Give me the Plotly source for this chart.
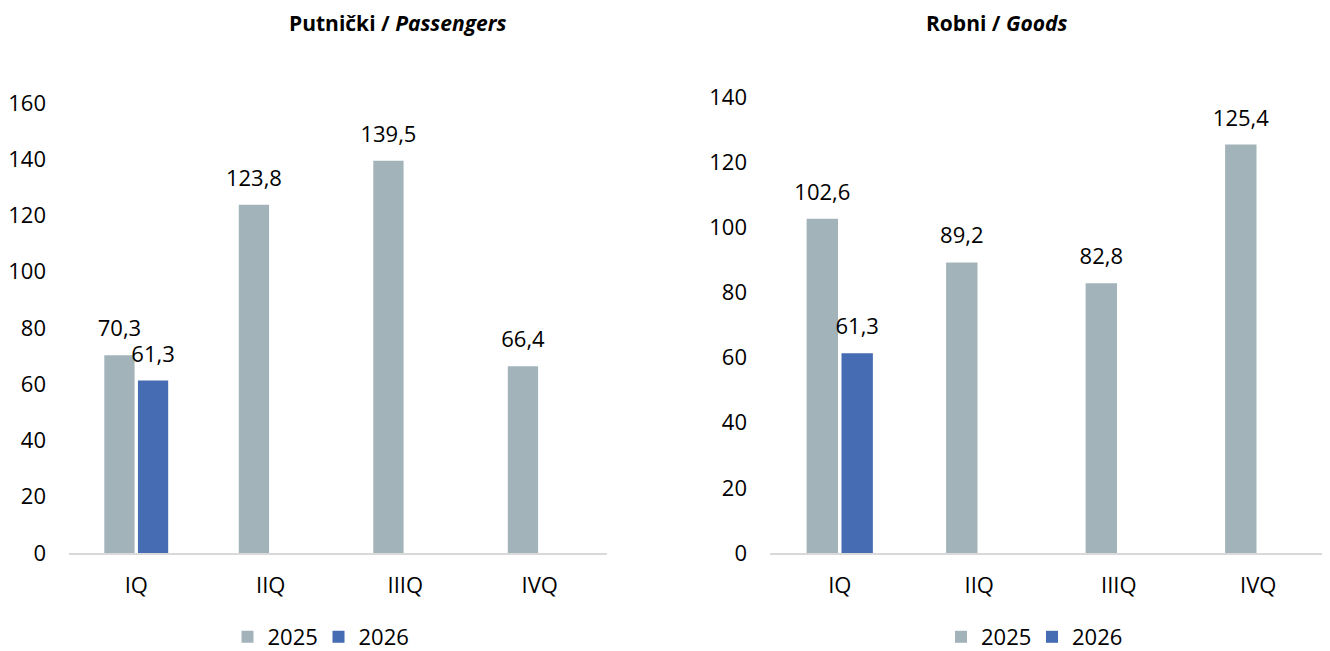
import plotly.graph_objects as go

quarters = ["IQ", "IIQ", "IIIQ", "IVQ"]
series_names = ["2025", "2026"]
passengers_2025 = [70.3, 123.8, 139.5, 66.4]
passengers_2026 = [61.3, None, None, None]
goods_2025 = [102.6, 89.2, 82.8, 125.4]
goods_2026 = [61.3, None, None, None]

titles = ["<b>Putnički / <i>Passengers</i></b>", "<b>Robni / <i>Goods</i></b>"]
y_ticks_left = [0, 20, 40, 60, 80, 100, 120, 140, 160]
y_ticks_right = [0, 20, 40, 60, 80, 100, 120, 140]

GRAY = "#A2B3BA"
BLUE = "#466DB4"
FONT = "Open Sans"
FS = 22
W, H = 1330, 651
OFF = 8  # page body margin offset

fig = go.Figure()

def add_series(vals, name, color, xa, ya, legend, group):
    fig.add_trace(go.Bar(
        x=quarters, y=vals, name=name, marker=dict(color=color, line=dict(width=0)),
        xaxis=xa, yaxis=ya, legend=legend, offsetgroup=group, hoverinfo="skip",
    ))
    fig.add_trace(go.Scatter(
        x=quarters, y=vals, mode="markers+text", offsetgroup=group,
        marker=dict(size=20, color="rgba(0,0,0,0)"),
        texttemplate="%{y:.1f}", textposition="top center",
        textfont=dict(family=FONT, size=FS, color="#000000"),
        xaxis=xa, yaxis=ya, showlegend=False, hoverinfo="skip", cliponaxis=False,
    ))

add_series(passengers_2025, series_names[0], GRAY, "x", "y", "legend", "a")
add_series(passengers_2026, series_names[1], BLUE, "x", "y", "legend", "b")
add_series(goods_2025, series_names[0], GRAY, "x2", "y2", "legend2", "a")
add_series(goods_2026, series_names[1], BLUE, "x2", "y2", "legend2", "b")

xcommon = dict(showgrid=False, showline=True, linecolor="#D9D9D9", linewidth=2,
               ticks="", tickfont=dict(family=FONT, size=FS, color="#000000"),
               ticklabelstandoff=12, zeroline=False, fixedrange=True, automargin=False)
ycommon = dict(showgrid=False, showline=False, zeroline=False, ticks="",
               tickfont=dict(family=FONT, size=FS, color="#000000"),
               ticklabelstandoff=22, fixedrange=True, automargin=False)

legcommon = dict(orientation="h", xanchor="center", yanchor="middle",
                 font=dict(family=FONT, size=FS, color="#000000"),
                 bgcolor="rgba(0,0,0,0)", itemwidth=30, tracegroupgap=0,
                 entrywidth=46, entrywidthmode="pixels")

def px_x(v):
    return (v - OFF) / W

def px_y(v):
    return 1 - (v - OFF) / H

fig.update_layout(
    width=W, height=H,
    margin=dict(l=0, r=0, t=0, b=0, autoexpand=False),
    paper_bgcolor="white", plot_bgcolor="white",
    separators=", ",
    barmode="group", bargap=0.5, bargroupgap=0.1,
    scattermode="group", scattergap=0.5,
    font=dict(family=FONT, size=FS, color="#000000"),
    xaxis=dict(domain=[px_x(69), px_x(607)], anchor="y", **xcommon),
    yaxis=dict(domain=[px_y(553), px_y(103)], anchor="x", range=[0, 160],
               tickvals=y_ticks_left, **ycommon),
    xaxis2=dict(domain=[px_x(770), px_x(1328)], anchor="y2", **xcommon),
    yaxis2=dict(domain=[px_y(553), px_y(97)], anchor="x2", range=[0, 140],
                tickvals=y_ticks_right, **ycommon),
    legend=dict(x=px_x(318.5), y=px_y(637), **legcommon),
    legend2=dict(x=px_x(1032), y=px_y(637), **legcommon),
    showlegend=True,
    annotations=[
        dict(text=titles[0], x=px_x(397.5), y=1, xref="paper", yref="paper",
             showarrow=False, xanchor="center", yanchor="top", borderpad=0,
             font=dict(family=FONT, size=21, color="#000000")),
        dict(text=titles[1], x=px_x(996), y=1, xref="paper", yref="paper",
             showarrow=False, xanchor="center", yanchor="top", borderpad=0,
             font=dict(family=FONT, size=21, color="#000000")),
    ],
)

fig.write_html("out.html")
